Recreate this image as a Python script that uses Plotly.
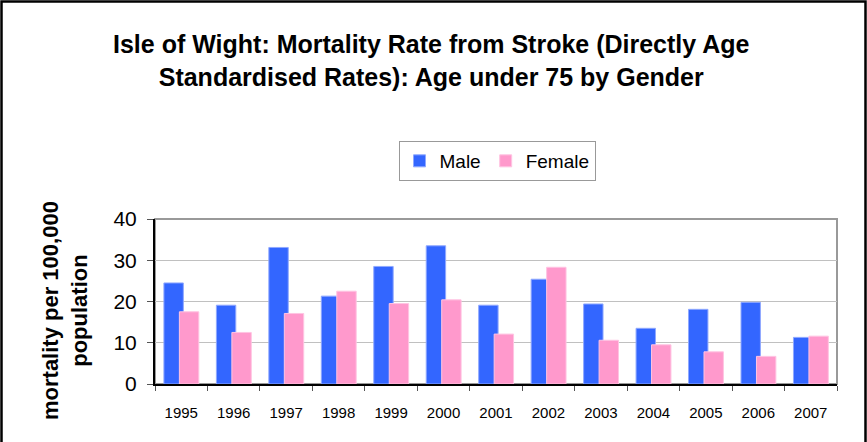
import plotly.graph_objects as go

years = ["1995", "1996", "1997", "1998", "1999", "2000", "2001",
         "2002", "2003", "2004", "2005", "2006", "2007"]
male = [24.5, 19.1, 33.1, 21.3, 28.5, 33.5, 19.1, 25.4, 19.4, 13.5, 18.1, 19.8, 11.3]
female = [17.5, 12.5, 17.1, 22.5, 19.5, 20.4, 12.1, 28.3, 10.6, 9.5, 7.8, 6.7, 11.6]

L, R, T, B = 155, 837, 219, 384
W, H = 867, 442
pw, ph = R - L, B - T

def px(x):
    return (x - L) / pw

def py(y):
    return (B - y) / ph

fig = go.Figure()
fig.add_trace(go.Bar(
    x=years, y=male, name="Male",
    marker=dict(color="#3366ff", line=dict(color="#8fa8ff", width=1)),
    width=0.37, offset=-0.33,
))
fig.add_trace(go.Bar(
    x=years, y=female, name="Female",
    marker=dict(color="#ff99cc", line=dict(color="#ffc4e2", width=1)),
    width=0.37, offset=-0.035,
))

fig.update_layout(
    width=W, height=H,
    margin=dict(l=L, r=W - R, t=T, b=H - B, pad=0),
    paper_bgcolor="white", plot_bgcolor="white",
    barmode="overlay",
    font=dict(family="Arial, Liberation Sans, sans-serif", color="black"),
    showlegend=True,
    legend=dict(
        orientation="h", x=px(497), y=py(141), xanchor="center", yanchor="top",
        bordercolor="#999999", borderwidth=1, font=dict(size=19),
        itemwidth=30, tracegroupgap=0,
    ),
    xaxis=dict(
        showline=True, linecolor="black", linewidth=2,
        ticks="outside", tickson="boundaries", ticklen=5, tickcolor="#555555",
        tickfont=dict(size=15), showgrid=False, ticklabelstandoff=14,
    ),
    yaxis=dict(
        range=[0, 40], dtick=10, showline=True, linecolor="black", linewidth=2,
        ticks="outside", ticklen=6, tickcolor="#555555",
        tickfont=dict(size=21), showgrid=True, gridcolor="#c0c0c0", gridwidth=1,
        zeroline=False, ticklabelstandoff=6,
    ),
    shapes=[
        dict(type="rect", xref="paper", yref="paper", x0=0, x1=1, y0=0, y1=1,
             line=dict(color="#999999", width=2), layer="below"),
        dict(type="rect", xref="paper", yref="paper",
             x0=px(1.5), x1=px(865.5), y0=py(1.5), y1=py(470),
             line=dict(color="black", width=2.5)),
    ],
    annotations=[
        dict(text="<b>Isle of Wight: Mortality Rate from Stroke (Directly Age<br>Standardised Rates): Age under 75 by Gender</b>",
             xref="paper", yref="paper", x=px(431), y=py(60),
             xanchor="center", yanchor="middle", showarrow=False,
             font=dict(size=25), align="center"),
        dict(text="<b>mortality per 100,000<br>population</b>",
             xref="paper", yref="paper", x=px(65), y=py(311),
             xanchor="center", yanchor="middle", showarrow=False,
             textangle=-90, font=dict(size=22), align="center"),
    ],
)

fig.write_html("out.html", config={"displayModeBar": False},
               post_script="document.body.style.margin='0';")
